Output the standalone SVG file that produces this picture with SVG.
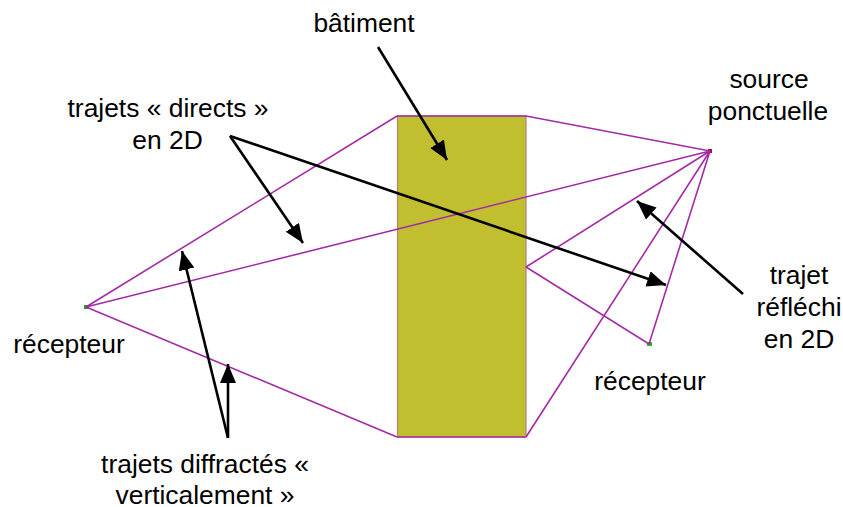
<svg xmlns="http://www.w3.org/2000/svg" width="843" height="507" viewBox="0 0 843 507">
<style>
text{font-family:"Liberation Sans",Arial,sans-serif;font-size:26.4px;fill:#000;text-anchor:middle}
.p{stroke:#a32ca6;stroke-width:1.6;fill:none}
.a{stroke:#000;stroke-width:2.6;fill:none;marker-end:url(#ah)}
</style>
<defs><marker id="ah" markerUnits="userSpaceOnUse" markerWidth="20" markerHeight="18" refX="19" refY="8" orient="auto"><path d="M0 0L19 8L0 16Z" fill="#000"/></marker></defs>
<rect width="843" height="507" fill="#fff"/>
<g id="batiment"><rect x="397.500" y="116" width="128.500" height="321" fill="#c1bf2f" stroke="#b5837a" stroke-width="1.200"/><path d="M397 116H526M397 437H526" stroke="#a32ca6" stroke-width="1.500"/></g>
<g id="source"><rect x="708" y="149" width="4" height="4" fill="#b01020"/></g>
<g id="recepteur1"><rect x="84" y="305" width="5" height="4" fill="#1aa01a"/></g>
<g id="recepteur2"><rect x="647" y="342" width="5" height="4" fill="#2fae2f"/></g>
<g id="connecteurs">
<path class="p" d="M86 307L397 116M526 116L710 151M86 307L710 151M86 307L397 437M526 437L710 151M526 267L710 151M526 267L649 344L710 151"/>
<path class="a" d="M230 136L303 243"/>
<path class="a" d="M230 136L666 285"/>
<path class="a" d="M378 47L447 160"/>
<path class="a" d="M743 294L637 201"/>
<path class="a" d="M228 438L182 251"/>
<path class="a" d="M228 438V364"/>
</g>
<g id="labels">
<text x="364" y="32">bâtiment</text>
<text x="769" y="88">source</text>
<text x="768" y="120">ponctuelle</text>
<text x="168" y="117">trajets « directs »</text>
<text x="167.500" y="149">en 2D</text>
<text x="69" y="353">récepteur</text>
<text x="650" y="390">récepteur</text>
<text x="799" y="284">trajet</text>
<text x="799" y="316">réfléchi</text>
<text x="799" y="348">en 2D</text>
<text x="205" y="473">trajets diffractés «</text>
<text x="205" y="504">verticalement »</text>
</g>
</svg>
